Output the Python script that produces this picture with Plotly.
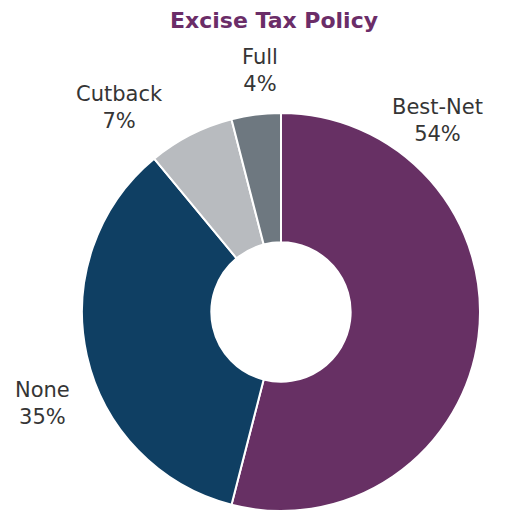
import plotly.graph_objects as go

# Excise tax policy distribution
labels = ["Best-Net", "None", "Cutback", "Full"]
values = [54, 35, 7, 4]
colors = ["#673064", "#0f3f63", "#b8bbbf", "#6e7880"]

W, H = 509, 512

# label placement (paper coords) for the outside captions
label_pos = {
    "Best-Net": (437 / W, 1 - 120 / H),
    "None": (42 / W, 1 - 403 / H),
    "Cutback": (119 / W, 1 - 107 / H),
    "Full": (260 / W, 1 - 70 / H),
}

cx, cy, r = 281, 312, 199

fig = go.Figure(go.Pie(
    labels=labels,
    values=values,
    marker=dict(colors=colors, line=dict(color="white", width=2)),
    hole=0.35,
    sort=False,
    direction="clockwise",
    rotation=0,
    textinfo="none",
    hoverinfo="label+percent",
    showlegend=False,
    domain=dict(x=[(cx - r) / W, (cx + r) / W],
                y=[max(0, 1 - (cy + r) / H), 1 - (cy - r) / H]),
))

total = sum(values)
annotations = []
for lab, v in zip(labels, values):
    x, y = label_pos[lab]
    annotations.append(dict(
        text=f"{lab}<br>{v / total * 100:.0f}%",
        x=x, y=y, xref="paper", yref="paper",
        xanchor="center", yanchor="middle",
        showarrow=False, align="center",
        font=dict(family="DejaVu Sans", size=21, color="#353535"),
    ))

annotations.append(dict(
    text="<b>Excise Tax Policy</b>",
    x=274 / W, y=1 - 20 / H, xref="paper", yref="paper",
    xanchor="center", yanchor="middle", showarrow=False,
    font=dict(family="DejaVu Sans", size=22, color="#6b2d68"),
))

fig.update_layout(
    width=W, height=H,
    margin=dict(l=0, r=0, t=0, b=0),
    paper_bgcolor="white",
    plot_bgcolor="white",
    annotations=annotations,
)

fig.write_html("out.html")
